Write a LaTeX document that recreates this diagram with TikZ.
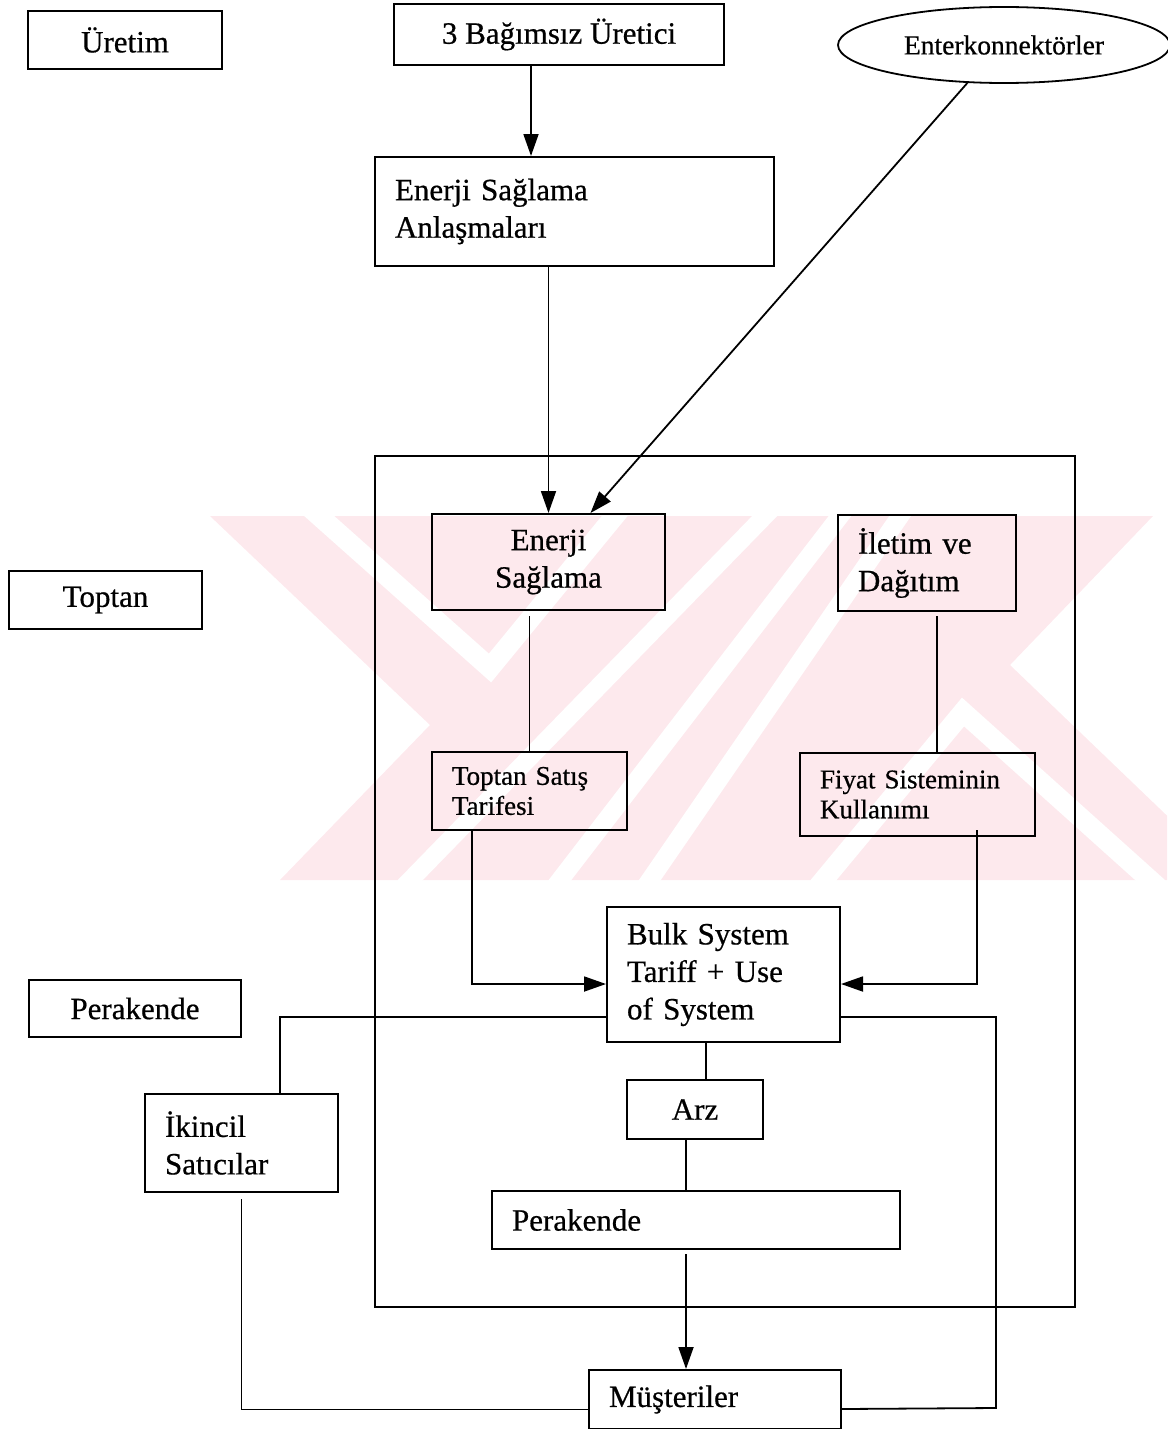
\documentclass[tikz,border=0pt]{standalone}
\usepackage{fontspec}
\setmainfont{Liberation Serif}[FakeBold=0.6]
\usetikzlibrary{arrows.meta,shapes.geometric}
\definecolor{wmpink}{RGB}{253,233,237}
\newcommand\bigfs{\fontsize{31}{37.5}\selectfont}
\newcommand\smfs{\fontsize{27}{30}\selectfont}
\newcommand\enfs{\fontsize{27.5}{30}\selectfont}
\begin{document}
\begin{tikzpicture}[x=1pt,y=-1pt,
  box/.style={draw, line width=2pt, rectangle, anchor=north west, inner sep=0pt, font=\bigfs},
  cbox/.style={box, align=center},
  lbox/.style={box, align=left, inner xsep=20pt, inner ysep=0pt},
  small/.style={font=\smfs},
  ln/.style={line width=1.8pt},
  arr/.style={ln, -{Triangle[length=22pt,width=15pt]}},
  stripe/.style={white, line width=#1, line cap=butt, line join=miter}]
\useasboundingbox (0,0) rectangle (1167,1429);

% faint background emblem
\begin{scope}
  \clip (200,516) rectangle (1167,880);
  \fill[wmpink] (210,516) -- (1153,516) -- (1010,665) -- (1234,880)
                -- (280,880) -- (430,725) -- cycle;
  \draw[stripe=20pt] (290,490) -- (490,668) -- (636,490);
  \draw[stripe=20pt] (802,906) -- (963,712) -- (1179,906);
  \draw[stripe=18pt] (385,906) -- (790,490);
  \draw[stripe=18pt] (540,906) -- (860,490);
  \draw[stripe=18pt] (632,906) -- (918,490);
\end{scope}

% level labels
\node[cbox, minimum width=194pt, minimum height=58pt] (uretim) at (27,10) {Üretim};
\node[cbox, minimum width=193pt, minimum height=58pt] (toptan) at (8,570) {Toptan};
\node[cbox, minimum width=212pt, minimum height=57pt] (perl) at (28,979) {Perakende};

% generation side
\node[cbox, minimum width=330pt, minimum height=61pt] (ubu) at (393,3) {3 Bağımsız Üretici};
\node[draw, ellipse, line width=1.8pt, minimum width=332pt, minimum height=76pt,
      inner sep=0pt, font=\enfs] (enter) at (1004,45) {Enterkonnektörler};
\node[lbox, minimum width=399pt, minimum height=109pt, text width=359pt] (esa) at (374,156)
  {Enerji Sağlama\\Anlaşmaları};

% wholesale / retail frame
\node[box, minimum width=700pt, minimum height=851pt] (frame) at (374,455) {};
\node[cbox, minimum width=233pt, minimum height=96pt] (es) at (431,513) {Enerji\\Sağlama};
\node[lbox, minimum width=178pt, minimum height=96pt, text width=138pt] (id) at (837,514)
  {İletim ve\\Dağıtım};
\node[lbox, small, minimum width=195pt, minimum height=78pt, text width=155pt] (tst) at (431,751)
  {Toptan Satış\\Tarifesi};
\node[lbox, small, minimum width=235pt, minimum height=83pt, text width=195pt] (fsk) at (799,752)
  {Fiyat Sisteminin\\Kullanımı};
\node[lbox, minimum width=233pt, minimum height=135pt, text width=193pt] (bst) at (606,906)
  {Bulk System\\Tariff + Use\\of System};
\node[cbox, minimum width=136pt, minimum height=59pt] (arz) at (626,1079) {Arz};
\node[lbox, minimum width=408pt, minimum height=58pt, text width=368pt] (per) at (491,1190) {Perakende};
\node[lbox, minimum width=193pt, minimum height=98pt, text width=153pt] (ikn) at (144,1093)
  {İkincil\\Satıcılar};
\node[lbox, minimum width=252pt, minimum height=59pt, text width=212pt] (mus) at (588,1369) {Müşteriler};

% connectors
\draw[arr] ([xshift=-28pt]ubu.south) -- ([xshift=-28pt]ubu.south |- esa.north);
\draw[arr] (es.north |- esa.south) -- (es.north);
\draw[arr] (enter.-134) -- ([xshift=42pt]es.north);
\draw[ln] ([yshift=-5pt]tst.north |- es.south) -- (tst.north);
\draw[ln] ([xshift=10pt,yshift=-4pt]id.south) -- ([xshift=10pt]id.south |- fsk.north);
\draw[arr] ([xshift=-57.5pt]tst.south) |- ([yshift=-9.5pt]bst.west);
\draw[arr] ([xshift=59.5pt,yshift=7pt]fsk.south) |- ([yshift=-9.5pt]bst.east);
\draw[ln] ([yshift=-42.5pt]bst.west) -| ([xshift=38.5pt]ikn.north);
\coordinate (rbend) at (996,1408);
\draw[ln] ([yshift=-42.5pt]bst.east) -| (rbend) -- ([yshift=-9.5pt]mus.east);
\draw[ln] ([yshift=-6pt]ikn.south) |- ([yshift=-10pt]mus.west);
\draw[ln] ([xshift=-17.5pt]bst.south) -- ([xshift=-17.5pt]bst.south |- arz.north);
\draw[ln] ([xshift=-9pt]arz.south) -- ([xshift=-9pt]arz.south |- per.north);
\draw[arr] ([xshift=-10pt,yshift=-4pt]per.south) -- ([xshift=-10pt]per.south |- mus.north);
\end{tikzpicture}
\end{document}
